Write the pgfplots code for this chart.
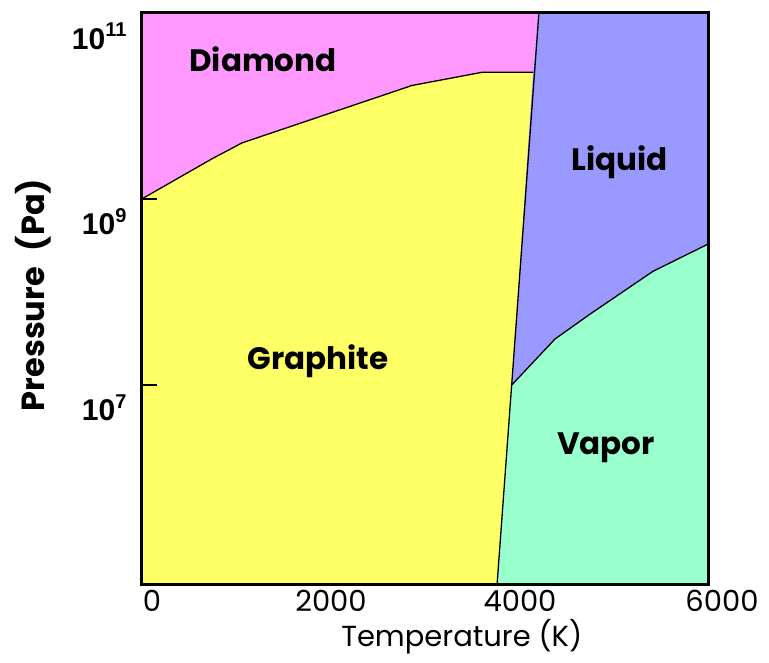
\documentclass[border=0pt]{standalone}
\usepackage{pgfplots}
\pgfplotsset{compat=1.18}
\usepackage{fontspec}
\setmainfont{Poppins}
\newfontfamily\arial{Liberation Sans}
\definecolor{diam}{HTML}{FF99FF}
\definecolor{graph}{HTML}{FFFF66}
\definecolor{liq}{HTML}{9999FF}
\definecolor{vap}{HTML}{99FFCC}
\newcommand{\tl}[1]{{\arial\bfseries\fontsize{30}{33}\selectfont 10\raisebox{0.42em}{\fontsize{20}{20}\selectfont #1}}}
\begin{document}
\begin{tikzpicture}
\begin{axis}[
  scale only axis,
  width=567pt, height=572pt,
  xmin=0, xmax=6000,
  ymode=log, ymin=7e4, ymax=1e11,
  axis on top,
  axis line style={line width=3pt},
  xtick={0,2000,4000,6000},
  xticklabels={\hspace*{20pt}0,2000,4000,\hspace*{26pt}6000},
  xtick style={draw=none},
  xticklabel style={font=\fontsize{29}{32}\selectfont, yshift=-2pt},
  ytick={1e7,1e9,1e11},
  yticklabels={\tl{7},\tl{9},\tl{11}},
  ytick pos=left,
  tick align=inside,
  major tick length=15pt,
  major tick style={black, line width=2pt},
  yticklabel style={yshift=-23pt, xshift=-12pt},
  xlabel={Temperature (K)},
  xlabel style={font=\fontsize{29}{32}\selectfont, at={(axis description cs:0.564,-0.091)}, anchor=center},
  ylabel={Pressure\hspace{0.5em}(Pa)},
  ylabel style={font=\bfseries\fontsize{32}{35}\selectfont, at={(axis description cs:-0.192,0.507)}, anchor=center, rotate=0},
  clip=true,
]
% regions
\addplot[fill=diam, draw=none] coordinates {
  (0,1e11) (4200,1e11) (4138,2.3e10) (3598,2.3e10) (2857,1.66e10)
  (1058,4.0e9) (741,2.7e9) (0,1e9)} --cycle;
\addplot[fill=graph, draw=none] coordinates {
  (0,1e9) (741,2.7e9) (1058,4.0e9) (2857,1.66e10) (3598,2.3e10)
  (4138,2.3e10) (3915,1e7) (3757,7e4) (0,7e4)} --cycle;
\addplot[fill=liq, draw=none] coordinates {
  (4200,1e11) (6000,1e11) (6000,3.3e8) (5407,1.66e8) (4741,5.75e7)
  (4370,3.1e7) (3915,1e7) (4138,2.3e10)} --cycle;
\addplot[fill=vap, draw=none] coordinates {
  (3915,1e7) (4370,3.1e7) (4741,5.75e7) (5407,1.66e8) (6000,3.3e8)
  (6000,7e4) (3757,7e4)} --cycle;
% boundaries
\addplot[black, line width=1.3pt] coordinates {
  (0,1e9) (741,2.7e9) (1058,4.0e9) (2857,1.66e10) (3598,2.3e10) (4138,2.3e10)};
\addplot[black, line width=1.3pt] coordinates {(4200,1e11) (3757,7e4)};
\addplot[black, line width=1.3pt] coordinates {
  (3915,1e7) (4370,3.1e7) (4741,5.75e7) (5407,1.66e8) (6000,3.3e8)};
% region labels
\node[font=\bfseries\fontsize{31}{34}\selectfont] at (axis cs:1280,3.16e10) {Diamond};
\node[font=\bfseries\fontsize{31}{34}\selectfont] at (axis cs:5058,2.5e9) {Liquid};
\node[font=\bfseries\fontsize{31}{34}\selectfont] at (axis cs:1862,1.8e7) {Graphite};
\node[font=\bfseries\fontsize{31}{34}\selectfont] at (axis cs:4910,2.1e6) {Vapor};
\end{axis}
\path (current axis.south west) ++(-142pt,-77pt) rectangle ++(769pt,662pt);
\end{tikzpicture}
\end{document}
